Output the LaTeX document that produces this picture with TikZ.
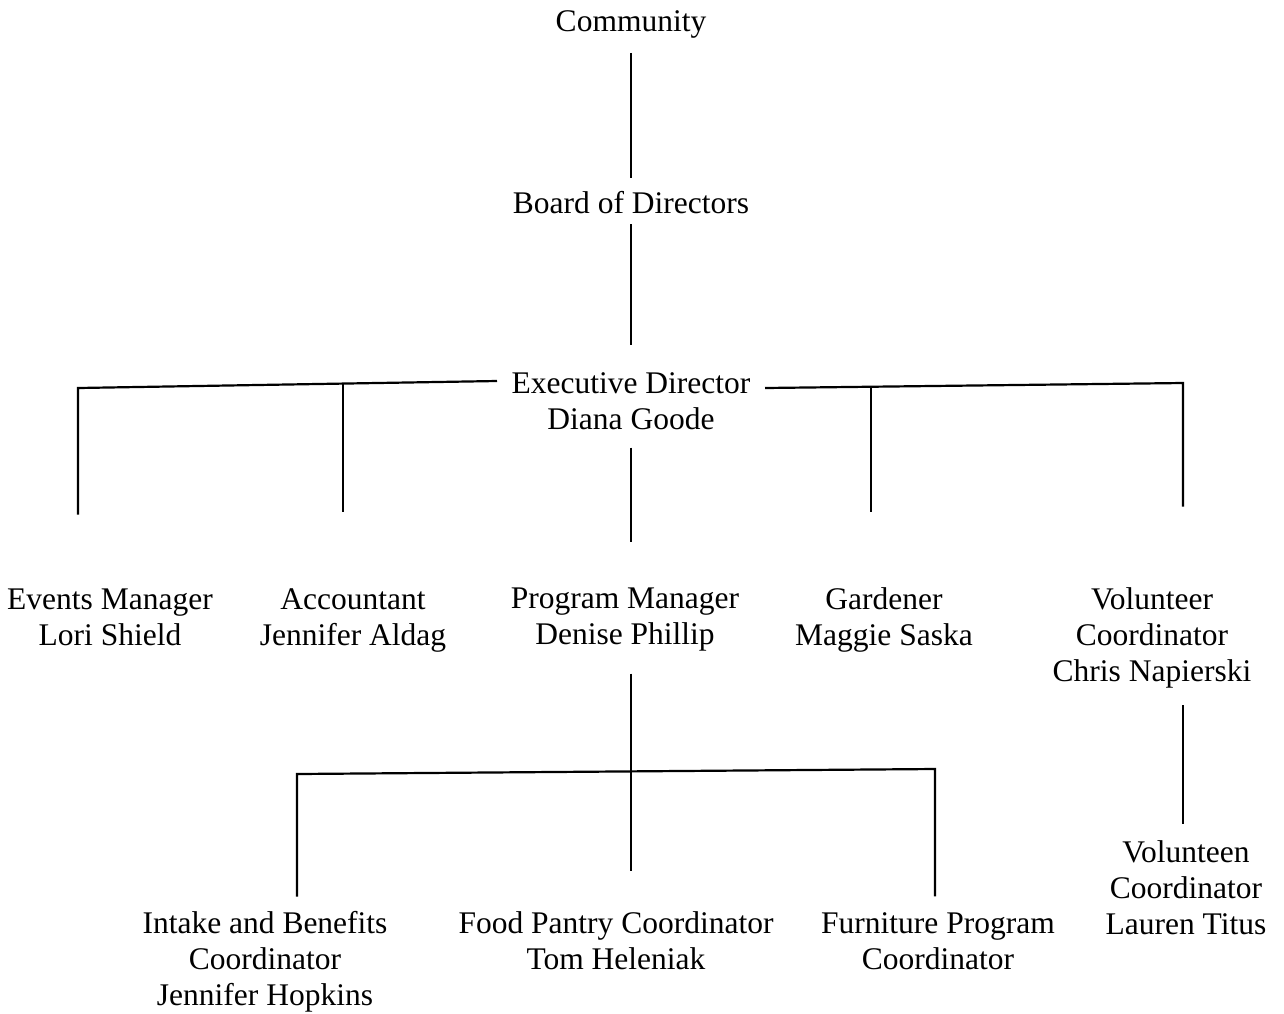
\documentclass[tikz,border=0pt]{standalone}
\usepackage{fontspec}
\setmainfont{Liberation Serif}
\usetikzlibrary{positioning, calc}

\begin{document}
\begin{tikzpicture}[
    x=0.5pt, y=-0.5pt,
    person/.style={
        inner sep=0pt, outer sep=0pt, align=center,
        font=\fontsize{15.75}{18}\selectfont
    },
    link/.style={
        line width=1.1pt, color=black
    }
]
    \useasboundingbox (0,0) rectangle (1284,1013);

    % Top of the chart
    \node[person] (community) at (631,24) {Community};
    \node[person] (board) at (631,203) {Board of Directors};
    \node[person] (exec) at (631,401) {Executive Director\\Diana Goode};

    % Staff under the director
    \node[person] (events) at (110,617) {Events Manager\\Lori Shield};
    \node[person] (accountant) at (353,620) {Accountant\\Jennifer Aldag};
    \node[person] (progman) at (625,620) {Program Manager\\Denise Phillip};
    \node[person] (gardener) at (884,620) {Gardener\\Maggie Saska};
    \node[person] (volcoord) at (1152,638) {Volunteer\\Coordinator\\Chris Napierski};

    % Program staff
    \node[person] (intake) at (265,962) {Intake and Benefits\\Coordinator\\Jennifer Hopkins};
    \node[person] (pantry) at (616,941) {Food Pantry Coordinator\\Tom Heleniak};
    \node[person] (furniture) at (938,941) {Furniture Program\\Coordinator};
    \node[person] (volteen) at (1186,888) {Volunteen\\Coordinator\\Lauren Titus};

    % Junctions on the bars
    \coordinate (lgap) at (497,381);
    \coordinate (lbar) at (78,388);
    \coordinate (lacc) at (343,384);
    \coordinate (rgap) at (765,388);
    \coordinate (rbar) at (1183,383);
    \coordinate (rgard) at (871,387);
    \coordinate (pbarL) at (297,774);
    \coordinate (pbarR) at (935,769);

    % Links
    \draw[link, shorten <=7.5pt, shorten >=7pt] (community) -- (board);
    \draw[link, shorten <=5pt, shorten >=13.5pt] (board) -- (exec);
    \draw[link, shorten <=9pt, shorten >=23pt] (exec.south) -- (exec.south |- progman.north);
    \draw[link, shorten <=11pt, shorten >=20.5pt] (exec.south |- progman.south) -- (exec.south |- pantry.north);

    \draw[link, shorten >=37pt] (lgap) -- (lbar) -- (lbar |- events.north);
    \draw[link, shorten >=38pt] (lacc) -- (lacc |- accountant.north);
    \draw[link, shorten >=40.5pt] (rgap) -- (rbar) -- (rbar |- volcoord.north);
    \draw[link, shorten >=38pt] (rgard) -- (rgard |- gardener.north);

    \draw[link, shorten <=7.5pt, shorten >=8pt] (pbarL |- intake.north) -- (pbarL) -- (pbarR) -- (pbarR |- furniture.north);
    \draw[link, shorten <=8.5pt, shorten >=8.5pt] (rbar |- volcoord.south) -- (rbar |- volteen.north);

\end{tikzpicture}
\end{document}
